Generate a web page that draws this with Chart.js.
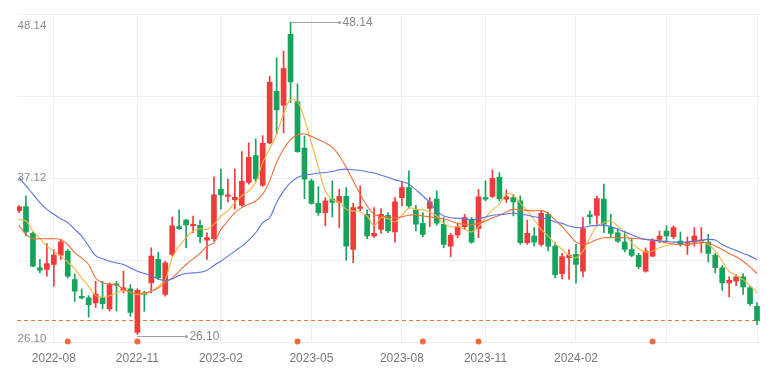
<!DOCTYPE html>
<html><head><meta charset="utf-8">
<script src="https://cdn.jsdelivr.net/npm/chart.js@4.4.1/dist/chart.umd.min.js"></script>
<style>html,body{margin:0;padding:0;background:#fff;}canvas{display:block;}</style>
</head><body>
<canvas id="c" width="783" height="374"></canvas>
<script>
// weekly candles, index 0..106
const opens  = [34.82,35.13,33.24,30.81,30.69,31.04,31.70,31.99,29.98,28.80,28.68,28.33,28.68,27.90,29.67,29.22,29.32,26.24,29.03,29.74,31.40,28.92,31.75,33.71,34.18,33.76,33.81,32.76,32.86,36.35,35.84,35.62,35.22,36.83,38.72,36.64,39.61,43.25,42.27,47.27,42.54,39.26,36.94,35.36,34.70,35.65,35.41,35.84,32.10,34.99,34.58,33.05,33.52,34.51,33.33,35.76,36.47,34.89,33.95,34.99,35.65,33.88,32.34,33.12,33.71,34.23,33.57,35.76,35.84,37.18,35.65,35.76,35.53,32.58,33.05,32.46,34.58,32.34,30.40,31.52,31.75,30.57,34.54,34.51,35.65,33.64,33.28,32.62,32.10,31.68,30.57,31.63,32.81,33.40,33.00,32.69,32.39,32.62,32.58,32.62,31.68,30.81,29.74,29.86,30.17,29.39,28.09];
const closes = [35.10,33.33,30.92,30.64,31.11,31.70,32.63,30.22,29.15,28.68,28.21,28.96,28.28,29.63,29.56,29.39,27.66,29.22,28.92,31.63,30.10,31.16,33.76,33.57,33.83,33.88,33.00,32.93,35.95,35.95,35.95,35.77,36.90,38.60,37.07,39.59,43.91,41.95,44.86,43.91,39.00,37.06,35.34,34.70,35.53,35.41,35.84,32.34,35.06,35.10,33.05,33.24,34.58,33.40,35.46,36.47,35.17,33.88,33.17,35.46,33.95,32.46,33.10,33.71,34.35,32.62,35.81,35.65,37.11,35.69,35.81,35.46,32.58,33.24,32.62,34.65,32.34,30.33,31.59,31.68,31.04,33.57,34.42,35.69,33.88,33.24,32.69,32.10,31.68,30.88,31.99,32.69,33.05,33.05,33.64,32.46,32.58,33.05,32.76,31.82,30.81,29.74,29.93,30.17,29.46,28.28,27.09];
const highs  = [35.20,35.88,33.33,31.40,32.51,32.10,32.81,32.10,30.38,29.32,28.85,29.86,29.86,29.74,29.86,30.57,29.63,29.32,29.15,32.22,31.92,31.28,34.39,34.89,34.23,34.46,34.18,33.28,37.23,37.77,37.06,37.77,39.00,39.62,39.90,40.14,44.31,45.61,46.09,48.14,43.79,40.09,37.06,36.54,35.76,36.94,36.35,36.47,35.36,36.59,34.89,35.06,34.99,34.70,35.76,36.83,37.65,35.22,34.70,35.76,36.24,34.35,33.24,33.88,34.58,34.35,36.35,36.94,37.70,37.53,36.31,35.99,35.88,34.18,33.64,34.82,34.70,32.58,31.82,32.10,32.46,34.35,34.82,35.84,36.71,34.58,33.57,33.40,32.86,31.82,32.22,32.86,33.40,33.76,33.76,33.33,33.00,33.64,33.64,33.17,31.82,30.97,30.17,30.33,30.40,29.51,28.33];
const lows   = [34.70,33.05,30.88,30.45,30.22,29.51,31.40,30.10,28.44,28.61,27.33,28.02,27.90,27.74,27.74,29.03,27.38,26.10,27.73,29.03,29.98,28.80,31.63,33.52,32.22,33.28,32.58,31.40,32.69,34.94,35.46,34.94,35.13,36.71,36.90,36.55,39.54,40.25,40.32,42.45,38.95,35.69,35.29,34.51,33.76,34.39,33.64,31.35,31.16,34.82,32.86,32.93,33.24,33.28,32.62,35.17,34.99,33.40,33.00,33.71,33.81,32.22,31.59,32.93,33.52,32.53,32.93,35.53,35.76,35.53,35.41,34.46,32.46,32.46,32.34,32.34,31.99,30.10,30.03,29.98,29.74,30.17,33.88,33.88,33.28,32.93,32.58,31.92,31.59,30.73,30.50,31.59,32.58,32.69,32.86,32.34,31.75,32.34,31.87,31.21,30.45,29.22,28.75,29.55,28.92,28.14,26.79];
// moving averages
const ma5  = [34.23,34.11,33.40,32.86,32.34,31.98,31.63,31.20,30.73,30.09,29.50,28.84,28.75,28.84,29.03,29.22,29.08,28.91,28.98,29.15,29.50,29.97,31.51,32.34,32.93,33.40,33.56,33.52,33.87,34.46,34.82,35.41,35.88,36.23,36.82,38.24,39.19,40.25,41.67,42.68,42.54,41.31,39.61,37.89,36.23,35.60,35.45,34.93,34.82,34.75,34.46,33.80,34.34,34.27,34.04,34.51,35.03,34.93,34.89,34.75,34.46,33.94,33.70,33.70,33.52,33.33,33.70,34.34,34.89,35.29,36.00,35.93,35.36,34.82,34.18,33.52,33.04,32.52,32.10,31.67,31.51,31.98,32.93,33.75,33.99,34.11,33.75,33.28,32.57,32.15,31.91,31.98,32.22,32.38,32.45,32.45,32.45,32.52,32.67,32.45,31.98,31.27,30.56,30.26,29.97,29.55,29.03];
const ma10 = [33.80,33.16,32.86,32.86,32.86,32.86,32.81,32.45,31.86,31.50,31.04,30.09,29.74,29.67,29.60,29.31,29.08,28.98,29.03,29.15,29.38,29.74,30.09,30.56,31.04,31.44,31.82,32.34,32.57,33.52,34.11,34.70,35.05,35.29,35.52,36.00,36.94,38.24,39.19,39.85,40.18,40.25,40.08,39.85,39.61,39.30,38.71,37.89,36.94,36.00,35.17,34.58,34.46,34.39,34.34,34.41,34.51,34.56,34.46,34.41,34.32,34.27,34.11,33.94,33.87,33.85,33.94,34.11,34.32,34.51,34.75,34.93,34.89,34.86,34.82,34.86,34.65,34.18,33.71,33.16,32.62,32.45,32.57,32.81,32.93,32.93,32.93,32.93,32.88,32.86,32.81,32.76,32.67,32.57,32.48,32.45,32.48,32.52,32.57,32.57,32.34,32.10,31.82,31.58,31.27,30.87,30.40];
const ma20 = [37.18,36.59,36.00,35.41,34.93,34.58,34.27,33.99,33.52,33.04,32.34,31.67,31.44,31.27,31.15,31.04,30.80,30.56,30.40,30.26,30.02,29.90,30.02,30.26,30.40,30.45,30.49,30.64,30.97,31.27,31.63,31.98,32.34,32.76,33.28,33.99,34.34,35.41,36.23,36.82,37.18,37.34,37.41,37.49,37.53,37.60,37.72,37.77,37.72,37.67,37.58,37.49,37.34,37.20,37.01,36.89,36.71,36.30,35.88,35.41,34.82,34.46,34.34,34.30,34.27,34.18,34.27,34.39,34.51,34.56,34.60,34.67,34.58,34.51,34.41,34.34,34.23,34.04,33.94,33.75,33.64,33.66,33.75,33.80,33.80,33.71,33.52,33.33,33.14,32.95,32.81,32.76,32.71,32.67,32.62,32.62,32.64,32.69,32.76,32.81,32.76,32.45,32.22,32.03,31.82,31.63,31.39];
// x-axis ticks (week index -> label)
const tickWeeks  = [5,17,29,42,55,67,80,93,106];
const tickLabels = ['2022-08','2022-11','2023-02','2023-05','2023-08','2023-11','2024-02','',''];
// event markers (week index)
const eventWeeks = [7,17,40,58,66,91];
// y labels: max, mid, min
const yLabelValues = [48.14, 37.12, 26.10];

const RED = '#ef3b3a', GREEN = '#14a45c';
const up = i => closes[i] >= opens[i];
const colorFor = ctx => up(ctx.dataIndex) ? RED : GREEN;

const maxHigh = Math.max(...highs), minLow = Math.min(...lows);
const iMax = highs.indexOf(maxHigh), iMin = lows.indexOf(minLow);
const Y_MIN = 25.53, Y_MAX = 48.71;

const overlay = {
  id: 'overlay',
  beforeDatasetsDraw(chart) {
    const {ctx, chartArea: a, scales: {y}} = chart;
    const yy = Math.round(y.getPixelForValue(closes[closes.length-1])) + 0.5;
    ctx.save();
    ctx.strokeStyle = '#f07a35'; ctx.lineWidth = 1.2; ctx.setLineDash([4,3]);
    ctx.beginPath(); ctx.moveTo(a.left, yy); ctx.lineTo(a.right, yy); ctx.stroke();
    ctx.restore();
  },
  afterDatasetsDraw(chart) {
    const {ctx, chartArea: a, scales: {x, y}} = chart;
    ctx.save();
    // y labels
    ctx.font = '11.5px "Liberation Sans", Arial, sans-serif';
    ctx.fillStyle = '#8a8a8a'; ctx.textAlign = 'left'; ctx.textBaseline = 'middle';
    const offs = [3.5, -0.5, 4];
    yLabelValues.forEach((v, k) => ctx.fillText(v.toFixed(2), a.left + 0.5, y.getPixelForValue(v) + offs[k]));
    // max / min annotations
    ctx.font = '12px "Liberation Sans", Arial, sans-serif';
    const ann = (i, v, dy) => {
      const px = x.getPixelForValue(i), py = Math.round(y.getPixelForValue(v) + dy) + 0.5;
      ctx.strokeStyle = '#a0a0a0'; ctx.lineWidth = 1.2;
      ctx.beginPath(); ctx.moveTo(px, py); ctx.lineTo(px + 49, py); ctx.stroke();
      ctx.fillStyle = '#a0a0a0'; ctx.beginPath(); ctx.arc(px + 49, py, 1.6, 0, Math.PI*2); ctx.fill();
      ctx.fillStyle = '#888'; ctx.fillText(v.toFixed(2), px + 52, py);
    };
    ann(iMax, maxHigh, 0);
    ann(iMin, minLow, 1.5);
    // event dots
    ctx.fillStyle = '#f36b3c';
    eventWeeks.forEach(w => { ctx.beginPath(); ctx.arc(x.getPixelForValue(w), a.bottom - 1, 3, 0, Math.PI*2); ctx.fill(); });
    ctx.restore();
  }
};

Chart.defaults.font.family = '"Liberation Sans", Arial, sans-serif';
const lineDs = (data, color) => ({
  type: 'line', data: data.map((v, i) => ({x: i, y: v})), borderColor: color, borderWidth: 1.1,
  pointRadius: 0, tension: 0.35, fill: false, order: 0
});

new Chart(document.getElementById('c'), {
  type: 'bar',
  data: {
    datasets: [
      lineDs(ma20, '#5a74dc'),
      lineDs(ma10, '#f0703a'),
      lineDs(ma5,  '#f5b540'),
      { type: 'bar', data: highs.map((h, i) => ({x: i, y: [lows[i], h]})), backgroundColor: colorFor,
        barThickness: 1, grouped: false, order: 2 },
      { type: 'bar', data: opens.map((o, i) => ({x: i, y: [o, closes[i]]})), backgroundColor: colorFor,
        barThickness: 5, minBarLength: 1, grouped: false, order: 1 }
    ]
  },
  options: {
    responsive: false, animation: false,
    layout: { padding: { left: 17, right: 23, top: 14, bottom: -1 } },
    plugins: { legend: { display: false }, tooltip: { enabled: false } },
    scales: {
      x: {
        type: 'linear', min: -0.29, max: 106.43, offset: false,
        grid: { color: '#f0f0f0', drawTicks: false, offset: false },
        border: { display: false },
        afterBuildTicks: s => { s.ticks = tickWeeks.map(v => ({value: v})); },
        ticks: { autoSkip: false, maxRotation: 0, padding: 9, color: '#777', font: { size: 12 },
          callback: v => tickLabels[tickWeeks.indexOf(v)] }
      },
      y: {
        min: Y_MIN, max: Y_MAX,
        grid: { color: '#f0f0f0', drawTicks: false },
        border: { display: false },
        afterBuildTicks: s => { const st = (Y_MAX - Y_MIN) / 4; s.ticks = [0,1,2,3,4].map(k => ({value: Y_MIN + k*st})); },
        ticks: { display: false }
      }
    }
  },
  plugins: [overlay]
});
</script>
</body></html>
